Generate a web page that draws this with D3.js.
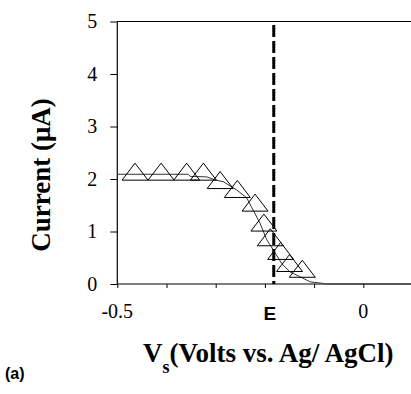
<!DOCTYPE html>
<html>
<head>
<meta charset="utf-8">
<script src="https://cdn.jsdelivr.net/npm/d3@7"></script>
<style>
  body { margin: 0; background: #fff; }
  svg { display: block; }
</style>
</head>
<body>
<div id="chart"></div>
<script>
// measured trace (thin line)
var traceV = [-0.5, -0.356, -0.352, -0.318, -0.301, -0.285, -0.257, -0.237, -0.224, -0.210,
              -0.196, -0.183, -0.166, -0.149, -0.129, -0.108, -0.081, -0.078, 0.1]
var traceI = [2.09, 2.09, 2.05, 2.04, 1.98, 1.95, 1.79, 1.64, 1.41, 1.16,
              0.84, 0.65, 0.39, 0.23, 0.14, 0.04, 0.01, 0, 0]

// simulated points (triangles)
var simV = [-0.464, -0.411, -0.359, -0.325, -0.291, -0.256, -0.220, -0.202, -0.189, -0.168, -0.150, -0.124]
var simI = [2.14, 2.14, 2.14, 2.14, 1.98, 1.81, 1.55, 1.17, 0.89, 0.63, 0.40, 0.29]

var Evalue = -0.182
var yTicks = [0, 1, 2, 3, 4, 5]
var xTicks = [-0.5, -0.4, -0.3, -0.2, -0.1, 0, 0.1]
var xLabels = [[-0.5, '-0.5'], [0, '0']]

var svg = d3.select('#chart')
            .append('svg')
            .attr('width', 411)
            .attr('height', 394)

var x = d3.scaleLinear().domain([-0.5, 0.1]).range([117.3, 412.5])
var y = d3.scaleLinear().domain([0, 5]).range([284, 21.5])

var serif = '"Liberation Serif", "Times New Roman", serif'
var sans = '"Liberation Sans", Arial, sans-serif'

// top border
svg.append('line')
   .attr('x1', x(-0.5)).attr('x2', 411)
   .attr('y1', y(5)).attr('y2', y(5))
   .attr('stroke', '#000').attr('stroke-width', 1.2)

// y axis
var yAxis = svg.append('g')
   .attr('transform', 'translate(' + x(-0.5) + ',0)')
   .call(d3.axisLeft(y).tickValues(yTicks).tickSize(7).tickPadding(13).tickFormat(d3.format('d')))
yAxis.select('.domain').attr('d', 'M0,' + y(0) + 'V' + y(5)).attr('stroke-width', 1.2)
yAxis.selectAll('text').style('font-family', serif).style('font-size', '20px').attr('fill', '#000')

// x axis
var xAxis = svg.append('g')
   .attr('transform', 'translate(0,' + y(0) + ')')
   .call(d3.axisBottom(x).tickValues(xTicks).tickSize(4).tickFormat(''))
xAxis.select('.domain').attr('d', 'M' + x(-0.5) + ',0H411').attr('stroke-width', 1.2)

svg.selectAll('.xlab')
   .data(xLabels)
   .enter().append('text')
   .attr('x', function(d){ return x(d[0]) })
   .attr('y', 318)
   .attr('text-anchor', 'middle')
   .style('font-family', serif)
   .style('font-size', '20px')
   .text(function(d){ return d[1] })

// measured trace
var trace = traceV.map(function(v, i){ return [v, traceI[i]] })
svg.append('path')
   .datum(trace)
   .attr('d', d3.line().x(function(d){ return x(d[0]) }).y(function(d){ return y(d[1]) }))
   .attr('fill', 'none')
   .attr('stroke', '#333')
   .attr('stroke-width', 1)

// triangles
var tw = 26, th = 17
svg.selectAll('.tri')
   .data(simV)
   .enter().append('path')
   .attr('d', function(d, i){
      var cx = x(d), cy = y(simI[i])
      return 'M' + (cx - tw/2) + ',' + (cy + th/2) + 'L' + cx + ',' + (cy - th/2) +
             'L' + (cx + tw/2) + ',' + (cy + th/2) + 'Z'
   })
   .attr('fill', 'none')
   .attr('stroke', '#000')
   .attr('stroke-width', 1)

// E dashed line
svg.append('line')
   .attr('x1', x(Evalue)).attr('x2', x(Evalue))
   .attr('y1', 25).attr('y2', y(0))
   .attr('stroke', '#000')
   .attr('stroke-width', 3)
   .attr('stroke-dasharray', '12,4')

svg.append('text')
   .attr('x', x(Evalue) - 4)
   .attr('y', 320)
   .attr('text-anchor', 'middle')
   .style('font-family', sans)
   .style('font-weight', 'bold')
   .style('font-size', '19px')
   .text('E')

// axis titles
svg.append('text')
   .attr('transform', 'translate(50,175) rotate(-90)')
   .attr('text-anchor', 'middle')
   .style('font-family', serif)
   .style('font-weight', 'bold')
   .style('font-size', '27px')
   .text('Current (\u03BCA)')

var xt = svg.append('text')
   .attr('x', 143).attr('y', 361.5)
   .style('font-family', serif).style('font-weight', 'bold').style('font-size', '27px')
xt.append('tspan').text('V')
xt.append('tspan').attr('dy', 11.5).style('font-size', '18px').text('s')
xt.append('tspan').attr('dy', -11.5).text('(Volts vs. Ag/ AgCl)')

svg.append('text')
   .attr('x', 5).attr('y', 379)
   .style('font-family', sans).style('font-weight', 'bold').style('font-size', '16px')
   .text('(a)')
</script>
</body>
</html>
